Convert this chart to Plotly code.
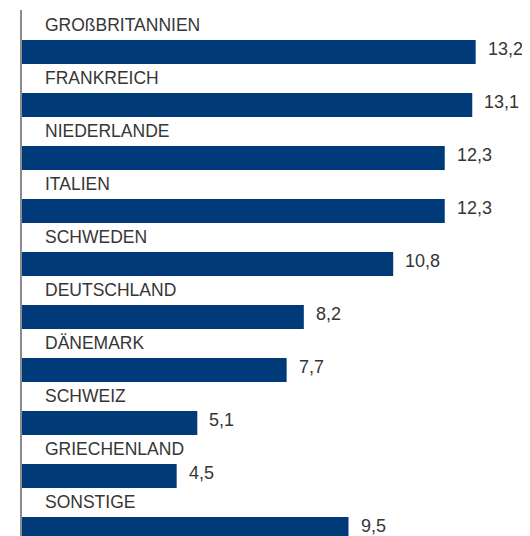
import plotly.graph_objects as go

categories = ["GROßBRITANNIEN", "FRANKREICH", "NIEDERLANDE", "ITALIEN", "SCHWEDEN",
              "DEUTSCHLAND", "DÄNEMARK", "SCHWEIZ", "GRIECHENLAND", "SONSTIGE"]
values = [13.2, 13.1, 12.3, 12.3, 10.8, 8.2, 7.7, 5.1, 4.5, 9.5]

BAR_COLOR = "#003a79"
TEXT_COLOR = "#363636"
FONT = "Liberation Sans"

pos = list(range(len(categories)))

fig = go.Figure()
fig.add_trace(go.Bar(
    x=values, y=pos, orientation="h",
    marker=dict(color=BAR_COLOR, line=dict(width=0)),
    width=0.453, hoverinfo="skip",
))

annotations = []
for i, (c, v) in enumerate(zip(categories, values)):
    annotations.append(dict(
        x=0, y=i, xref="x", yref="y", text=c, showarrow=False,
        xanchor="left", yanchor="middle", xshift=21, yshift=27,
        font=dict(family=FONT, size=17.5, color=TEXT_COLOR),
    ))
    annotations.append(dict(
        x=v, y=i, xref="x", yref="y", text=f"{v:.1f}".replace(".", ","),
        showarrow=False, xanchor="left", yanchor="middle", xshift=10, yshift=3,
        font=dict(family=FONT, size=18, color=TEXT_COLOR),
    ))

fig.update_layout(
    width=522, height=528,
    margin=dict(l=14, r=0, t=2, b=0, autoexpand=False),
    paper_bgcolor="white", plot_bgcolor="white",
    showlegend=False,
    annotations=annotations,
    xaxis=dict(range=[0, 508 / 34.37], showgrid=False, zeroline=False,
               showticklabels=False, showline=False, fixedrange=True),
    yaxis=dict(range=[9.132, -0.792], showgrid=False, zeroline=False,
               showticklabels=False, showline=True, linecolor="#8c8c8c",
               linewidth=2, ticks="", fixedrange=True),
)

fig.write_html("out.html")
